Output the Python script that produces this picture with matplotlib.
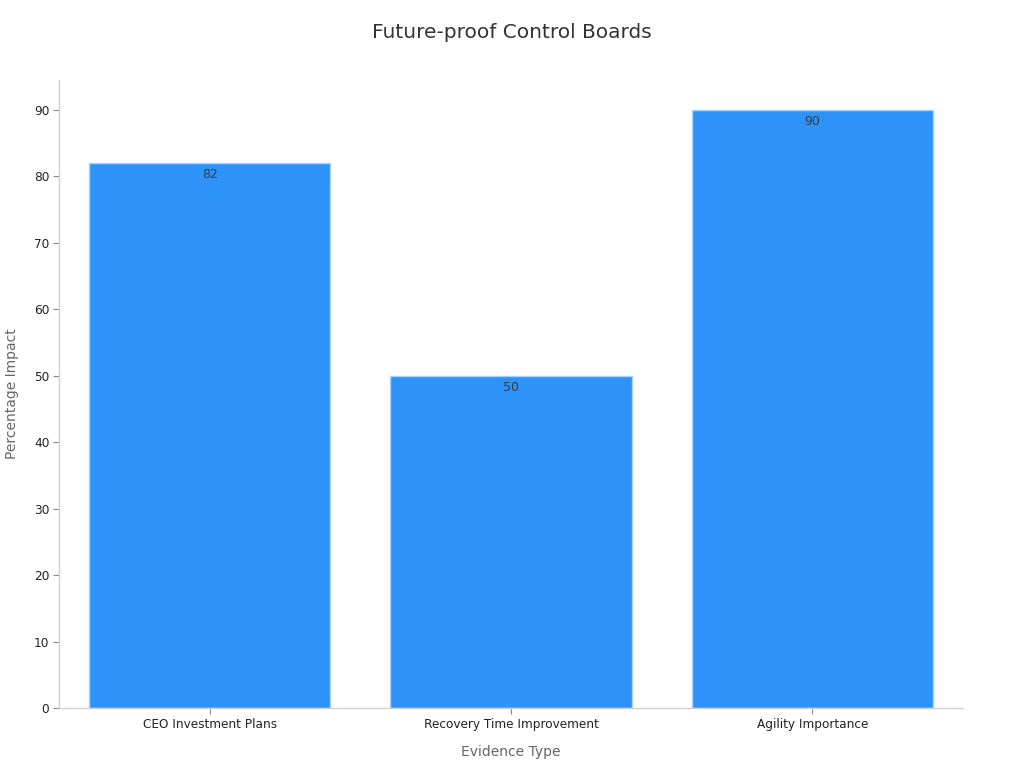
import matplotlib
matplotlib.use("Agg")
import matplotlib.pyplot as plt

categories = ["CEO Investment Plans", "Recovery Time Improvement", "Agility Importance"]
values = [82, 50, 90]

fig = plt.figure(figsize=(10.24, 7.68), dpi=100)
ax = fig.add_axes([0.0576, 0.078, 0.8828, 0.818])

x = list(range(len(categories)))
bars = ax.bar(x, values, width=0.8, color="#2E93F9", edgecolor="#A8D4FF", linewidth=1)
for xi, v in zip(x, values):
    ax.text(xi, v - 0.8, f"{v}", ha="center", va="top", fontsize=9, color="#3a3a3a")

ax.set_xlim(-0.5, 2.5)
ax.set_ylim(0, 94.5)
ax.set_yticks(range(0, 91, 10))
ax.set_xticks(x)
ax.set_xticklabels(categories)
ax.tick_params(axis="both", labelsize=8.7, length=4, width=0.8, pad=3)
ax.tick_params(axis="x", colors="#888888", labelcolor="#222222")
ax.tick_params(axis="y", colors="#888888", labelcolor="#222222")
for s in ["top", "right"]:
    ax.spines[s].set_visible(False)
for s in ["left", "bottom"]:
    ax.spines[s].set_color("#d0d0d0")
    ax.spines[s].set_linewidth(1)
ax.set_xlabel("Evidence Type", fontsize=10, color="#666666", labelpad=10)
ax.set_ylabel("Percentage Impact", fontsize=10, color="#666666", labelpad=11)
fig.suptitle("Future-proof Control Boards", fontsize=14.5, color="#333333", y=0.97)

fig.savefig("out.png", dpi=100)
